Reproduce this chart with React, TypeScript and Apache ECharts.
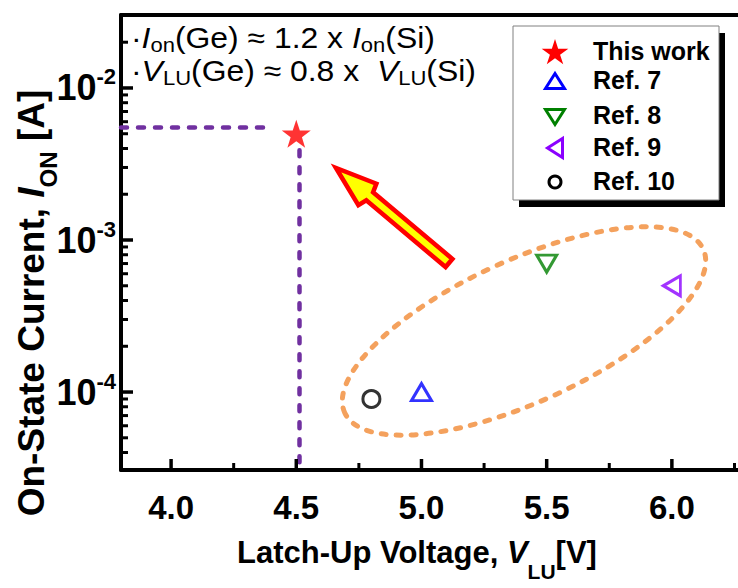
import React, { useEffect, useRef } from 'react';
import * as echarts from 'echarts';

// ---------- data ----------
const seriesNames = ['This work', 'Ref. 7', 'Ref. 8', 'Ref. 9', 'Ref. 10'];
const latchUpVoltage = [4.5, 5.0, 5.5, 6.0, 4.8]; // V_LU [V]
const onCurrent = [5.0e-3, 1.0e-4, 7.0e-4, 5.0e-4, 9.0e-5]; // I_ON [A]

const xTickValues = [4.0, 4.5, 5.0, 5.5, 6.0];
const xTickLabels = ['4.0', '4.5', '5.0', '5.5', '6.0'];
const xMinorTickValues = [4.25, 4.75, 5.25, 5.75, 6.25];
const yTickValues = [1e-4, 1e-3, 1e-2];
const yTickExponents = ['-4', '-3', '-2'];
const yMinorTickValues = [
  4e-5, 5e-5, 6e-5, 7e-5, 8e-5, 9e-5,
  2e-4, 3e-4, 4e-4, 5e-4, 6e-4, 7e-4, 8e-4, 9e-4,
  2e-3, 3e-3, 4e-3, 5e-3, 6e-3, 7e-3, 8e-3, 9e-3,
  2e-2, 3e-2,
];

const X_MIN = 3.8;
const X_MAX = 6.3;
const Y_MIN = 3.07e-5;
const Y_MAX = 3.02e-2;

// guide lines to "This work"
const guideY = 5.5e-3;
const guideHFromX = 3.8;
const guideHToX = 4.39;
const guideX = 4.51;
const guideVFromY = 3.9e-3;

// ---------- layout / styles ----------
const GRID = { left: 121, right: -9, top: 15, bottom: 118 };
const W = 738;
const H = 588;
const PLOT_W = W - GRID.left - GRID.right;
const PLOT_H = H - GRID.top - GRID.bottom;
const FONT = "'Liberation Sans', Arial, Helvetica, sans-serif";
const STAR = 'path://M50,0L61.8,35.1L98.1,35.1L68.8,56.8L79.4,91L50,70L20.6,91L31.2,56.8L1.9,35.1L38.2,35.1Z';
const TRI = 'path://M10,0L20,17L0,17Z';
const seriesColors = ['#FF0000', '#0000FF', '#008000', '#8B00FF', '#000000'];
const markerSymbols = [STAR, TRI, TRI, TRI, 'circle'];
const markerRotate = [0, 0, 180, 90, 0];
const markerSize: any[] = [[29, 28], [20, 17], [20, 17], [20, 17], 17];

// legend layout (pixels)
const LEGEND_ICON_X = 555;
const LEGEND_TEXT_X = 593;
const legendIconY = [52, 81, 117, 148, 182];
const legendTextY = [51, 80, 115, 147, 181];

// same linear / log mapping as the grid's axes
const xToPx = (v: number) => GRID.left + ((v - X_MIN) / (X_MAX - X_MIN)) * PLOT_W;
const yToPx = (v: number) =>
  GRID.top + (PLOT_H * (Math.log10(Y_MAX) - Math.log10(v))) / (Math.log10(Y_MAX) - Math.log10(Y_MIN));

function starPoints(cx: number, cy: number, R: number) {
  const r = R * 0.382;
  const pts: number[][] = [];
  for (let k = 0; k < 10; k++) {
    const ang = -Math.PI / 2 + (k * Math.PI) / 5;
    const rad = k % 2 === 0 ? R : r;
    pts.push([cx + rad * Math.cos(ang), cy + rad * Math.sin(ang)]);
  }
  return pts;
}

function trianglePoints(cx: number, cy: number, w: number, h: number, dir: 'up' | 'down' | 'left') {
  if (dir === 'up') return [[cx, cy - h / 2], [cx + w / 2, cy + h / 2], [cx - w / 2, cy + h / 2]];
  if (dir === 'down') return [[cx - w / 2, cy - h / 2], [cx + w / 2, cy - h / 2], [cx, cy + h / 2]];
  return [[cx + h / 2, cy - w / 2], [cx + h / 2, cy + w / 2], [cx - h / 2, cy]];
}

function arrowPoints(tip: number[], tail: number[], wingAt: number, wingHalf: number, neckAt: number, shaftHalf: number) {
  const dx = tail[0] - tip[0];
  const dy = tail[1] - tip[1];
  const len = Math.hypot(dx, dy);
  const u = [dx / len, dy / len];
  const n = [-u[1], u[0]];
  const p = (a: number, b: number) => [tip[0] + u[0] * a + n[0] * b, tip[1] + u[1] * a + n[1] * b];
  return [
    p(0, 0),
    p(wingAt, wingHalf),
    p(neckAt, shaftHalf),
    p(len, shaftHalf),
    p(len, -shaftHalf),
    p(neckAt, -shaftHalf),
    p(wingAt, -wingHalf),
  ];
}

function buildOption(): any {
  const axisLineStyle = { color: '#000', width: 4 };

  const series: any[] = seriesNames.map((name, i) => {
    const hollow = i > 0;
    const s: any = {
      type: 'scatter',
      name,
      xAxisIndex: 0,
      yAxisIndex: 0,
      data: [[latchUpVoltage[i], onCurrent[i]]],
      symbol: markerSymbols[i],
      symbolSize: markerSize[i],
      symbolRotate: markerRotate[i],
      silent: true,
      z: 5,
      itemStyle: hollow
        ? { color: '#ffffff', borderColor: seriesColors[i], borderWidth: 3 }
        : { color: seriesColors[i], borderWidth: 0 },
    };
    if (i === 0) {
      s.markLine = {
        silent: true,
        symbol: ['none', 'none'],
        label: { show: false },
        animation: false,
        lineStyle: { color: '#7030A0', width: 4.5, type: [6, 11], cap: 'round' },
        emphasis: { disabled: true },
        data: [
          [{ coord: [guideHFromX, guideY] }, { coord: [guideHToX, guideY] }],
          [{ coord: [guideX, guideVFromY] }, { coord: [guideX, Y_MIN] }],
        ],
      };
    }
    return s;
  });

  return {
    animation: false,
    grid: { ...GRID, show: false, outerBoundsMode: 'none' },
    xAxis: [
      {
        type: 'value',
        min: X_MIN,
        max: X_MAX,
        position: 'bottom',
        axisLine: { show: true, onZero: false, lineStyle: axisLineStyle },
        axisTick: { show: false },
        axisLabel: {
          customValues: xTickValues,
          formatter: (v: number) => {
            const k = xTickValues.findIndex((t) => Math.abs(t - v) < 1e-9);
            return k >= 0 ? xTickLabels[k] : '';
          },
          fontSize: 33,
          fontWeight: 'bold',
          fontFamily: FONT,
          color: '#000',
          margin: 21,
        },
        splitLine: { show: false },
      },
      {
        type: 'value',
        min: X_MIN,
        max: X_MAX,
        position: 'top',
        axisLine: { show: true, onZero: false, lineStyle: axisLineStyle },
        axisTick: { show: false },
        axisLabel: { show: false },
        splitLine: { show: false },
      },
    ],
    yAxis: [
      {
        type: 'log',
        logBase: 10,
        min: Y_MIN,
        max: Y_MAX,
        position: 'left',
        axisLine: { show: true, onZero: false, lineStyle: axisLineStyle },
        axisTick: { show: false },
        axisLabel: {
          customValues: yTickValues,
          margin: 5,
          formatter: (v: number) => {
            const k = yTickValues.findIndex((t) => Math.abs(Math.log10(t) - Math.log10(v)) < 1e-6);
            return k >= 0 ? `{b|10}{s|${yTickExponents[k]}}` : '';
          },
          rich: {
            b: { fontSize: 36, fontWeight: 'bold', fontFamily: FONT, color: '#000', lineHeight: 44 },
            s: { fontSize: 22, fontWeight: 'bold', fontFamily: FONT, color: '#000', lineHeight: 22, verticalAlign: 'top' },
          },
        },
        splitLine: { show: false },
      },
    ],
    series,
  };
}

function buildGraphic(): any[] {
  const g: any[] = [];

  // axis tick marks (inside), as filled rects
  const yBottom = yToPx(Y_MIN);
  const xLeft = xToPx(X_MIN);
  const xTick = (v: number, len: number, w: number) => {
    const x = xToPx(v);
    g.push({ type: 'rect', z: 100, shape: { x: x - w / 2, y: yBottom - len, width: w, height: len }, style: { fill: '#000000' } });
  };
  const yTick = (v: number, len: number, w: number) => {
    const y = yToPx(v);
    g.push({ type: 'rect', z: 100, shape: { x: xLeft, y: y - w / 2, width: len, height: w }, style: { fill: '#000000' } });
  };
  xTickValues.forEach((v) => xTick(v, 11, 3.5));
  xMinorTickValues.forEach((v) => xTick(v, 7, 3));
  yTickValues.forEach((v) => yTick(v, 12, 3.5));
  yMinorTickValues.forEach((v) => yTick(v, 7, 3));

  // legend box + shadow
  g.push({ type: 'rect', z: 1, shape: { x: 519, y: 33, width: 206, height: 174 }, style: { fill: '#000' } });
  g.push({ type: 'rect', z: 2, shape: { x: 513, y: 26, width: 206, height: 174 }, style: { fill: '#fff', stroke: '#808080', lineWidth: 1 } });

  // legend icons
  g.push({ type: 'polygon', z: 6, shape: { points: starPoints(LEGEND_ICON_X, legendIconY[0] + 1, 14) }, style: { fill: seriesColors[0] } });
  const dirs: ('up' | 'down' | 'left')[] = ['up', 'down', 'left'];
  dirs.forEach((d, k) => {
    g.push({
      type: 'polygon',
      z: 6,
      shape: { points: trianglePoints(LEGEND_ICON_X, legendIconY[k + 1], 19, 15, d) },
      style: { fill: '#fff', stroke: seriesColors[k + 1], lineWidth: 3, lineJoin: 'miter' },
    });
  });
  g.push({ type: 'circle', z: 6, shape: { cx: LEGEND_ICON_X, cy: legendIconY[4], r: 6 }, style: { fill: '#fff', stroke: seriesColors[4], lineWidth: 3 } });

  // legend texts
  seriesNames.forEach((name, i) => {
    g.push({
      type: 'text',
      z: 6,
      x: LEGEND_TEXT_X,
      y: legendTextY[i],
      style: {
        text: name,
        fill: '#000',
        font: `bold 25px ${FONT}`,
        align: 'left',
        textAlign: 'left',
        verticalAlign: 'middle',
        textVerticalAlign: 'middle',
      },
    });
  });

  // dashed ellipse around the references
  g.push({
    type: 'ellipse',
    z: 3,
    x: 524,
    y: 331,
    rotation: (24.5 * Math.PI) / 180,
    shape: { cx: 0, cy: 0, rx: 197, ry: 71 },
    style: { fill: 'rgba(0,0,0,0)', stroke: '#F4A15D', lineWidth: 5, lineDash: [5, 10], lineCap: 'round' },
  });

  // arrow
  g.push({
    type: 'polygon',
    z: 8,
    shape: { points: arrowPoints([336, 168], [449, 263], 41, 14, 44, 5.3) },
    style: { fill: '#FFFF00', stroke: '#FF0000', lineWidth: 4.5, lineJoin: 'miter' },
  });

  // annotations
  const annRich = {
    a: { fontSize: 29, fontFamily: FONT, lineHeight: 34, fill: '#000' },
    i: { fontSize: 29, fontFamily: FONT, fontStyle: 'italic', lineHeight: 34, fill: '#000' },
    s: { fontSize: 20, fontFamily: FONT, lineHeight: 20, verticalAlign: 'bottom', fill: '#000' },
  };
  const annLines = [
    '{a|·}{i|I}{s|on}{a|(Ge) ≈ 1.2 x }{i|I}{s|on}{a|(Si)}',
    '{a|·}{i|V}{s|LU}{a|(Ge) ≈ 0.8 x  }{i|V}{s|LU}{a|(Si)}',
  ];
  const annY = [38, 71];
  annLines.forEach((t, k) => {
    g.push({
      type: 'text',
      z: 8,
      x: 131,
      y: annY[k],
      scaleX: 1.1,
      style: {
        text: t,
        fill: '#000',
        font: `29px ${FONT}`,
        align: 'left',
        textAlign: 'left',
        verticalAlign: 'middle',
        textVerticalAlign: 'middle',
        rich: annRich,
      },
    });
  });

  // x axis title
  g.push({
    type: 'text',
    z: 8,
    x: 417,
    y: 552,
    style: {
      text: '{a|Latch-Up Voltage, }{i|V}{s|LU}{a|[V]}',
      fill: '#000',
      font: `bold 31px ${FONT}`,
      align: 'center',
      textAlign: 'center',
      verticalAlign: 'middle',
      textVerticalAlign: 'middle',
      rich: {
        a: { fontSize: 31, fontWeight: 'bold', fontFamily: FONT, lineHeight: 59, fill: '#000' },
        i: { fontSize: 31, fontWeight: 'bold', fontStyle: 'italic', fontFamily: FONT, lineHeight: 59, fill: '#000' },
        s: { fontSize: 21, fontWeight: 'bold', fontFamily: FONT, lineHeight: 21, verticalAlign: 'bottom', fill: '#000' },
      },
    },
  });

  // y axis title
  g.push({
    type: 'text',
    z: 8,
    x: 31,
    y: 303,
    rotation: Math.PI / 2,
    style: {
      text: '{a|On-State Current, }{i|I}{s|ON}{a| [A]}',
      fill: '#000',
      font: `bold 37px ${FONT}`,
      align: 'center',
      textAlign: 'center',
      verticalAlign: 'middle',
      textVerticalAlign: 'middle',
      rich: {
        a: { fontSize: 37, fontWeight: 'bold', fontFamily: FONT, lineHeight: 58, fill: '#000' },
        i: { fontSize: 37, fontWeight: 'bold', fontStyle: 'italic', fontFamily: FONT, lineHeight: 58, fill: '#000' },
        s: { fontSize: 24, fontWeight: 'bold', fontFamily: FONT, lineHeight: 24, verticalAlign: 'bottom', fill: '#000' },
      },
    },
  });

  return g;
}

export default function App() {
  const ref = useRef<HTMLDivElement>(null);
  useEffect(() => {
    if (!ref.current) return;
    const chart = echarts.init(ref.current, null, { renderer: 'svg' });
    const option = buildOption();
    option.graphic = buildGraphic();
    chart.setOption(option);
    return () => chart.dispose();
  }, []);
  return (
    <div
      ref={ref}
      style={{ position: 'fixed', left: 0, top: 0, width: W, height: H, background: '#fff' }}
    />
  );
}
